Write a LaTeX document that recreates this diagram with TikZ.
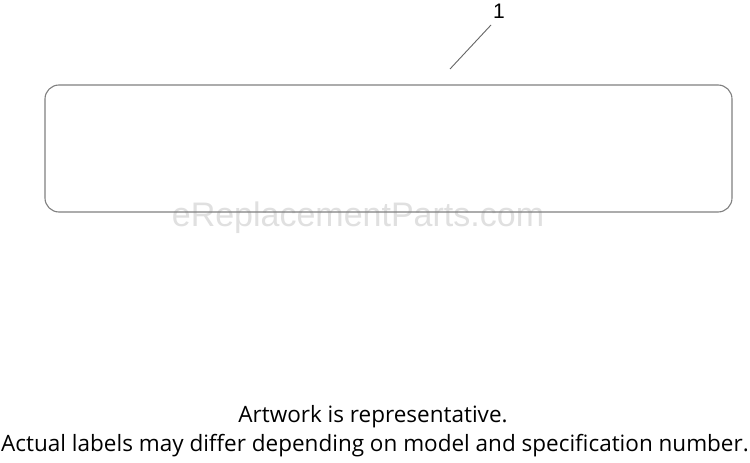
\documentclass[tikz,border=0pt]{standalone}
\usepackage{fontspec}
\setmainfont{Open Sans}
\newfontfamily\arialfont{Liberation Sans}
\begin{document}
\begin{tikzpicture}[x=1pt,y=-1pt,
  panel/.style={draw=black!50,line width=1.1pt,rounded corners=14pt},
  leader/.style={draw=black!60,line width=0.9pt},
  note/.style={font=\fontsize{22.5}{26}\selectfont,inner sep=0pt,anchor=base}]
\useasboundingbox[fill=white] (0,0) rectangle (750,463);
\node[font=\arialfont\fontsize{34}{36}\selectfont,text=black!12,inner sep=0pt] (wm) at (358,218) {eReplacementParts.com};
\draw[panel] (45,85) rectangle (732,212);
\node[font=\arialfont\fontsize{21}{22}\selectfont,inner sep=0pt,anchor=base] (num) at (499,19) {1};
\coordinate (lfoot) at (450,69);
\coordinate (ltop) at (491,25);
\draw[leader] (lfoot) -- (ltop);
\node[note] (t1) at (373,422) {Artwork is representative.};
\node[note] (t2) at (375,451) {Actual labels may differ depending on model and specification number.};
\end{tikzpicture}
\end{document}
